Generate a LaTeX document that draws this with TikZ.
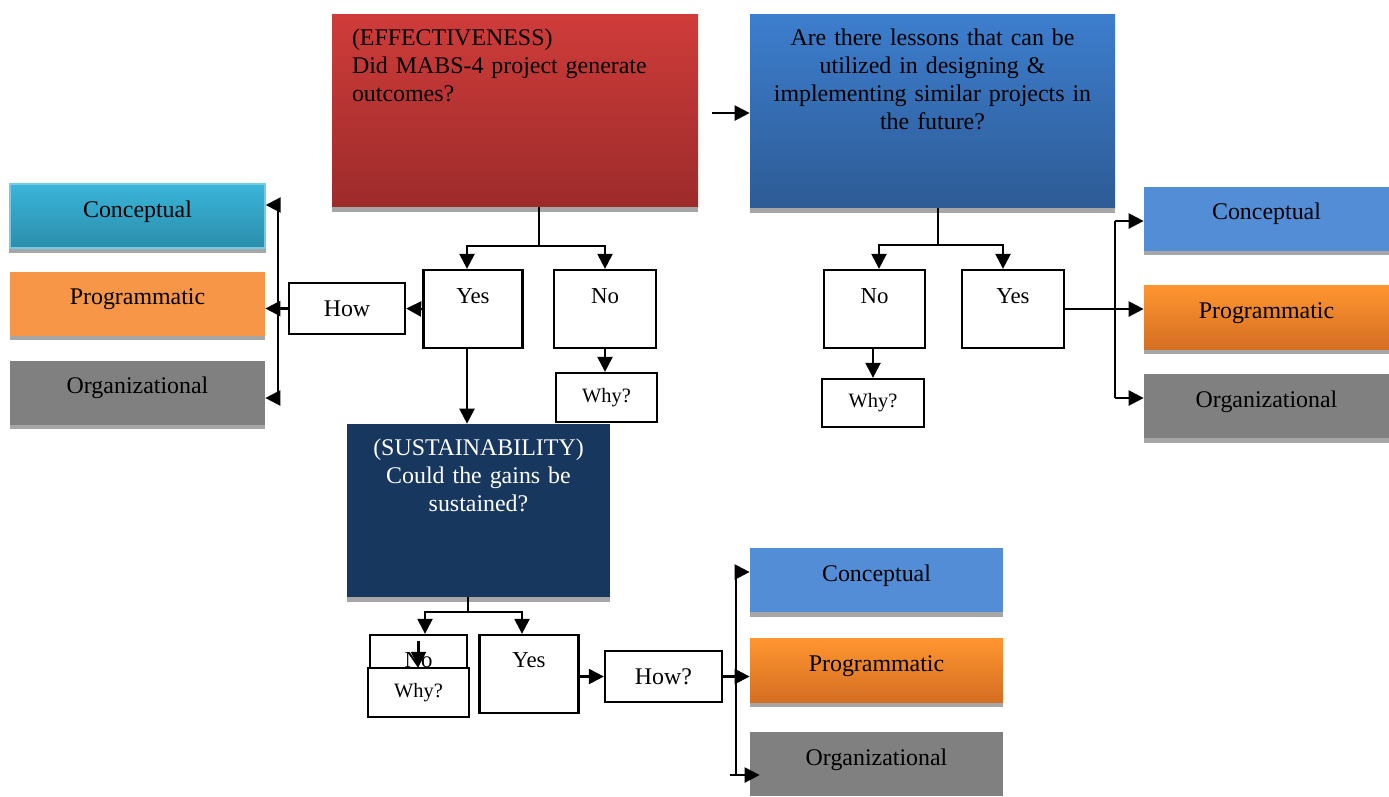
\documentclass[tikz,border=0pt]{standalone}
\usepackage{fontspec}
\setmainfont{Liberation Serif}
\usepackage{xcolor}
\usetikzlibrary{positioning,arrows.meta}

\definecolor{effred}{HTML}{CF3C3A}
\definecolor{effdark}{HTML}{9C2B2A}
\definecolor{lesblue}{HTML}{3D7ECE}
\definecolor{lesdark}{HTML}{2D5B95}
\definecolor{susnavy}{HTML}{17375E}
\definecolor{conteal}{HTML}{3AB5D9}
\definecolor{contealdk}{HTML}{2B8DAB}
\definecolor{conblue}{HTML}{538DD5}
\definecolor{proorange}{HTML}{F79646}
\definecolor{protop}{HTML}{FF9530}
\definecolor{prodark}{HTML}{D46E22}
\definecolor{orggray}{HTML}{808080}
\definecolor{shadowgray}{HTML}{A6A6A6}

\tikzset{
  qbox/.style={inner xsep=0.4cm,inner ysep=0pt,text height=0.62cm,
    font=\fontsize{13.6}{16}\selectfont},
  ynbox/.style={draw,fill=white,line width=1.3pt,minimum width=1.98cm,inner ysep=0pt,
    text height=0.66cm,text depth=0.90cm,font=\fontsize{13}{16}\selectfont},
  whybox/.style={draw,fill=white,line width=1.3pt,minimum width=2.02cm,minimum height=0.98cm,
    font=\fontsize{11.6}{14}\selectfont},
  howbox/.style={draw,fill=white,line width=1.3pt,minimum height=1.02cm,
    font=\fontsize{13.6}{16}\selectfont},
  catbox/.style={minimum width=5.06cm,inner ysep=0pt,text height=0.66cm,text depth=0.62cm,
    font=\fontsize{13.6}{16}\selectfont},
  link/.style={line width=1.3pt}
}

\begin{document}
\begin{tikzpicture}[>={Triangle[length=0.3cm,width=0.3cm]}]
\useasboundingbox (0,0) rectangle (27.78,-15.92);

% questions
\node[qbox,top color=effred,bottom color=effdark,minimum width=7.32cm,text width=6.52cm,
  align=left,text depth=3.24cm] (eff) at (10.30,-2.21)
  {(EFFECTIVENESS)\\Did MABS-4 project generate\\outcomes?};
\node[qbox,top color=lesblue,bottom color=lesdark,minimum width=7.30cm,text width=6.5cm,
  align=center,text depth=3.26cm] (les) at (18.65,-2.22)
  {Are there lessons that can be\\utilized in designing \&\\implementing similar projects in\\the future?};
\node[qbox,fill=susnavy,text=white,minimum width=5.26cm,text width=4.46cm,
  align=center,text depth=2.84cm] (sus) at (9.57,-10.21)
  {(SUSTAINABILITY)\\Could the gains be\\sustained?};

% left branch
\node[ynbox] (yes1) at (9.46,-6.18) {Yes};
\node[ynbox,minimum width=2.04cm] (no1) at (12.10,-6.18) {No};
\node[whybox] (why1) at (12.13,-7.95) {Why?};
\node[howbox,minimum width=2.32cm] (how) at (6.94,-6.17) {How};
\node[catbox,minimum width=5.10cm,top color=conteal,bottom color=contealdk,
  draw=conteal!70!white,line width=0.8pt] (lcon) at (2.75,-4.32) {Conceptual};
\node[catbox,minimum width=5.10cm,fill=proorange] (lpro) at (2.75,-6.07) {Programmatic};
\node[catbox,minimum width=5.10cm,fill=orggray] (lorg) at (2.75,-7.85) {Organizational};

% bottom branch
\node[ynbox,minimum width=1.94cm,text depth=0.92cm,text height=0.64cm] (no2) at (8.37,-13.48) {No};
\node[whybox] (why2) at (8.37,-13.85) {Why?};
\node[ynbox,text depth=0.92cm,text height=0.64cm] (yes2) at (10.58,-13.48) {Yes};
\node[howbox,minimum width=2.34cm] (how2) at (13.27,-13.53) {How?};
\node[catbox,fill=conblue] (bcon) at (17.53,-11.60) {Conceptual};
\node[catbox,top color=protop,bottom color=prodark] (bpro) at (17.53,-13.41) {Programmatic};
\node[catbox,fill=orggray] (borg) at (17.53,-15.28) {Organizational};

% right branch
\node[ynbox,minimum width=2.02cm] (rno) at (17.49,-6.18) {No};
\node[ynbox,minimum width=2.04cm] (ryes) at (20.26,-6.18) {Yes};
\node[whybox,minimum width=2.04cm,minimum height=0.96cm] (rwhy) at (17.46,-8.06) {Why?};
\node[catbox,minimum width=4.90cm,fill=conblue] (rcon) at (25.33,-4.37) {Conceptual};
\node[catbox,minimum width=4.90cm,top color=protop,bottom color=prodark] (rpro) at (25.33,-6.35) {Programmatic};
\node[catbox,minimum width=4.90cm,fill=orggray] (rorg) at (25.33,-8.12) {Organizational};

% shadows
\foreach \b in {eff,les,sus,lcon,lpro,lorg,bcon,bpro,rcon,rpro,rorg}
  \fill[shadowgray] (\b.south west) rectangle ([yshift=-0.09cm]\b.south east);

% effectiveness
\coordinate (effout) at (14.24,-2.26);
\coordinate (effsplit) at (10.78,-4.92);
\draw[link,->] (effout) -- (effout -| les.west);
\draw[link] (effsplit |- eff.south) -- (effsplit);
\draw[link,->] (effsplit) -| ([xshift=-0.12cm]yes1.north);
\draw[link,->] (effsplit) -| (no1.north);
\draw[link,->] (yes1.west) -- (how.east);
\draw[link,->] (no1.south) -- (no1.south |- why1.north);
\draw[link,->] ([xshift=-0.12cm]yes1.south) -- ([xshift=-0.12cm]yes1.south |- sus.north);

\coordinate (ltop) at (5.56,-4.10);
\coordinate (lbot) at (5.56,-7.96);
\draw[link] (ltop) -- (lbot);
\draw[link,->] (ltop) -- (ltop -| lcon.east);
\draw[link,->] (how.west) -- (how.west -| lpro.east);
\draw[link,->] (lbot) -- (lbot -| lorg.east);

% sustainability
\coordinate (ssplit) at (9.36,-12.24);
\draw[link] (ssplit |- sus.south) -- (ssplit);
\draw[link,->] (ssplit) -| ([xshift=0.13cm]no2.north);
\draw[link,->] (ssplit) -| ([xshift=-0.14cm]yes2.north);
\draw[link,->] ([yshift=-0.14cm]no2.north) -- (no2.north |- why2.north);
\draw[link,->] (yes2.east |- how2) -- (how2.west);

\coordinate (btop) at (14.72,-11.44);
\coordinate (bbot) at (14.72,-15.50);
\draw[link] (btop) -- (bbot);
\draw[link,->] (btop) -- (btop -| bcon.west);
\draw[link,->] (how2.east) -- (how2.east -| bpro.west);
\draw[link,->] ([xshift=-0.12cm]bbot) -- ([xshift=0.2cm]bbot -| borg.west);

% lessons
\coordinate (lessplit) at (18.76,-4.90);
\draw[link] (lessplit |- les.south) -- (lessplit);
\draw[link,->] (lessplit) -| ([xshift=0.09cm]rno.north);
\draw[link,->] (lessplit) -| ([xshift=-0.20cm]ryes.north);
\draw[link,->] (rwhy.north |- rno.south) -- (rwhy.north);

\coordinate (rtop) at (22.30,-4.42);
\coordinate (rbot) at (22.30,-7.96);
\draw[link] (rtop) -- (rbot);
\draw[link,->] (rtop) -- (rtop -| rcon.west);
\draw[link,->] (ryes.east) -- (ryes.east -| rpro.west);
\draw[link,->] (rbot) -- (rbot -| rorg.west);
\end{tikzpicture}
\end{document}
